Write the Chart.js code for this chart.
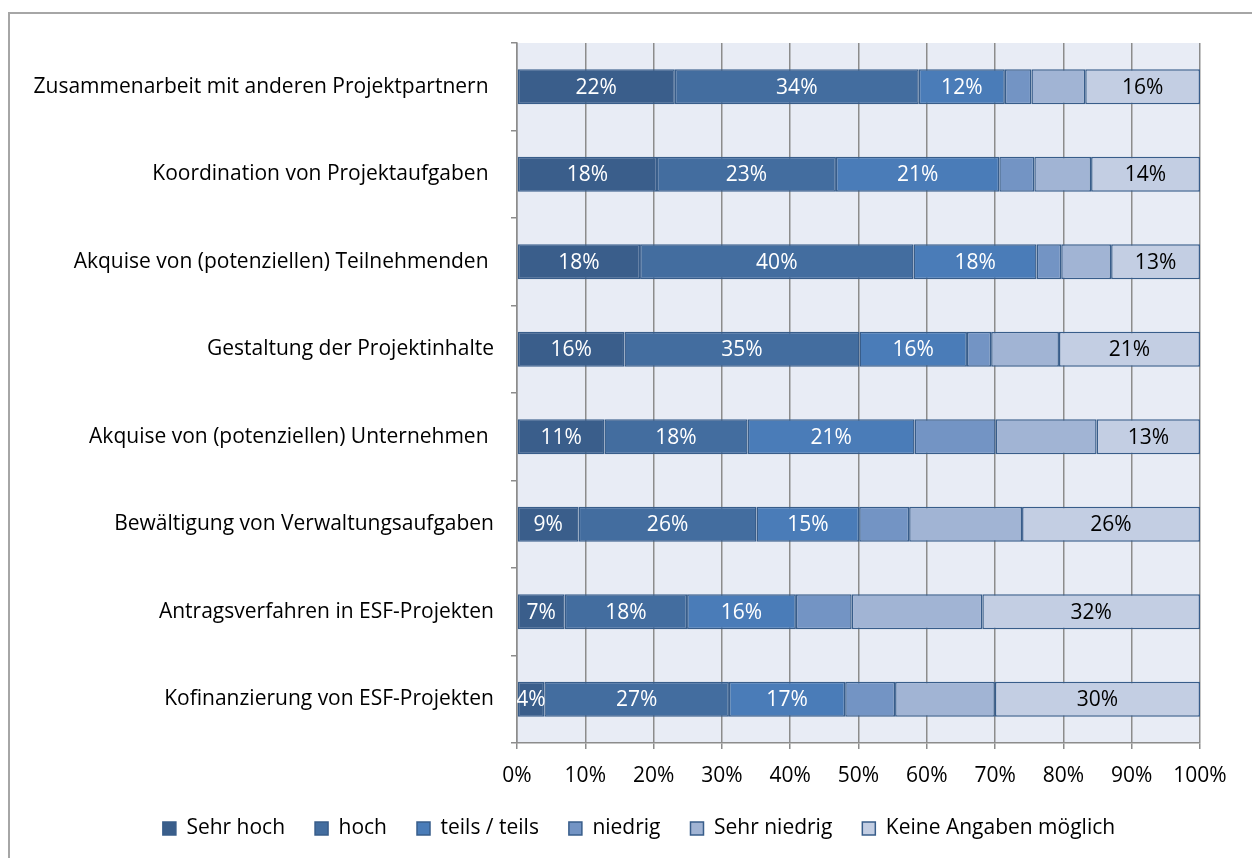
<!DOCTYPE html>
<html>
<head>
<meta charset="utf-8">
<script src="https://cdn.jsdelivr.net/npm/chart.js@4.4.1/dist/chart.umd.min.js"></script>
<style>
  html, body { margin: 0; padding: 0; background: #fff; }
  #frame { position: absolute; left: 8px; top: 12px; width: 1300px; height: 900px; border: 2px solid #a6a6a6; }
  #wrap { position: absolute; left: 0; top: 0; width: 1252px; height: 858px; }
</style>
</head>
<body>
<div id="frame"></div>
<div id="wrap"><canvas id="chart" width="1252" height="858"></canvas></div>
<script>
// categories (trailing spaces are in the original labels)
const categories = [
  "Zusammenarbeit mit anderen Projektpartnern ",
  "Koordination von Projektaufgaben ",
  "Akquise von (potenziellen) Teilnehmenden ",
  "Gestaltung der Projektinhalte",
  "Akquise von (potenziellen) Unternehmen ",
  "Bewältigung von Verwaltungsaufgaben",
  "Antragsverfahren in ESF-Projekten",
  "Kofinanzierung von ESF-Projekten"
];

// answer shares in % (niedrig / Sehr niedrig are unlabeled)
const sehrHoch    = [22, 18, 18, 16, 11, 9, 7, 4];
const hoch        = [34, 23, 40, 35, 18, 26, 18, 27];
const teilsTeils  = [12, 21, 18, 16, 21, 15, 16, 17];
const niedrig     = [3.7, 4.5, 3.6, 3.6, 10.2, 7.3, 8.2, 7.3];
const sehrNiedrig = [7.5, 7.3, 7.3, 10.1, 12.7, 16.5, 19.2, 14.6];
const keineAngabe = [16, 14, 13, 21, 13, 26, 32, 30];

const seriesNames = ["Sehr hoch", "hoch", "teils / teils", "niedrig", "Sehr niedrig", "Keine Angaben möglich"];
const seriesValues = [sehrHoch, hoch, teilsTeils, niedrig, sehrNiedrig, keineAngabe];
const seriesColors = ["#3a5e8b", "#436d9f", "#4a7cb8", "#7394c4", "#a1b4d4", "#c3cee3"];
const labelColors = ["#fff", "#fff", "#fff", null, null, "#000"]; // null = no data label
const xTicks = [0, 10, 20, 30, 40, 50, 60, 70, 80, 90, 100];

const FONT = { family: "'Open Sans', 'Noto Sans', sans-serif", size: 21 };

// 100% stacked: each row is scaled to its total
const totals = categories.map((_, i) => seriesValues.reduce((s, arr) => s + arr[i], 0));

const datasets = seriesNames.map((name, k) => ({
  label: name,
  data: seriesValues[k].map((v, i) => v / totals[i] * 100),
  raw: seriesValues[k],
  backgroundColor: seriesColors[k],
  borderColor: "#385d8a",
  borderWidth: 1.5,
  borderSkipped: false,
  barPercentage: 0.4,
  categoryPercentage: 1
}));

const plotBackground = {
  id: "plotBackground",
  beforeDraw(chart) {
    const { ctx, chartArea: a } = chart;
    ctx.save();
    ctx.fillStyle = "#e8ecf5";
    ctx.fillRect(a.left, a.top, a.right - a.left, a.bottom - a.top);
    ctx.restore();
  }
};

// legend is centred a bit right of the canvas centre in the original
const legendShift = {
  id: "legendShift",
  afterLayout(chart) {
    chart.legend.left = 26;
    chart.legend.right = 1252;
  }
};

const barLabels = {
  id: "barLabels",
  afterDatasetsDraw(chart) {
    const { ctx, chartArea: a } = chart;
    ctx.save();
    ctx.beginPath();
    ctx.rect(a.left, a.top, a.right - a.left, a.bottom - a.top);
    ctx.clip();
    ctx.font = FONT.size + "px " + FONT.family;
    ctx.textAlign = "center";
    ctx.textBaseline = "middle";
    chart.data.datasets.forEach((ds, k) => {
      if (!labelColors[k]) return;
      ctx.fillStyle = labelColors[k];
      chart.getDatasetMeta(k).data.forEach((bar, i) => {
        const x = (bar.x + bar.base) / 2;
        ctx.fillText(Math.round(ds.raw[i]) + "%", x, bar.y + 1);
      });
    });
    ctx.restore();
  }
};

new Chart(document.getElementById("chart"), {
  type: "bar",
  data: { labels: categories, datasets: datasets },
  plugins: [plotBackground, barLabels, legendShift],
  options: {
    indexAxis: "y",
    responsive: false,
    animation: false,
    layout: { padding: { left: 0, right: 52, top: 43, bottom: 9 } },
    scales: {
      x: {
        stacked: true,
        min: 0,
        max: 100,
        afterBuildTicks: (axis) => { axis.ticks = xTicks.map(v => ({ value: v })); },
        ticks: { callback: v => v + "%", color: "#000", font: FONT, padding: 14, maxRotation: 0 },
        grid: { color: "#8c8c8c", lineWidth: 1.5, tickLength: 6 },
        border: { color: "#8c8c8c", width: 1.5 },
        afterFit: (axis) => { axis.height = 45; }
      },
      y: {
        stacked: true,
        ticks: { color: "#000", font: FONT, padding: 17 },
        grid: { offset: true, drawOnChartArea: false, tickLength: 6, color: "#8c8c8c", lineWidth: 1.5 },
        border: { color: "#8c8c8c", width: 1.5 },
        afterFit: (axis) => { axis.width = 517; }
      }
    },
    plugins: {
      legend: {
        position: "bottom",
        labels: { boxWidth: 13, boxHeight: 13, padding: 30, color: "#000", font: FONT }
      },
      tooltip: { enabled: false }
    }
  }
});
</script>
</body>
</html>
